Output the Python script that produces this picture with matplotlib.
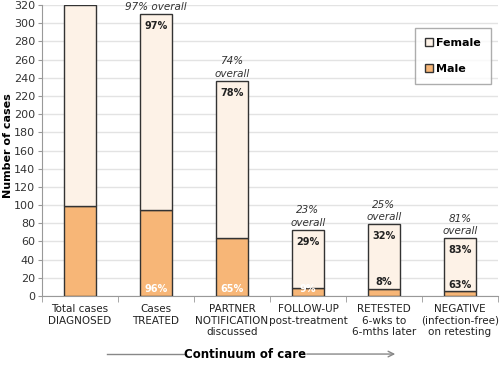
import matplotlib
matplotlib.use("Agg")
import matplotlib.pyplot as plt
import numpy as np

categories = ["Total cases\nDIAGNOSED", "Cases\nTREATED", "PARTNER\nNOTIFICATION\ndiscussed",
              "FOLLOW-UP\npost-treatment", "RETESTED\n6-wks to\n6-mths later",
              "NEGATIVE\n(infection-free)\non retesting"]
male = [99, 95, 64, 9, 8, 5]
total = [320, 310, 237, 73, 79, 64]
female = [t - m for t, m in zip(total, male)]
female_pct = ["", "97%", "78%", "29%", "32%", "83%"]
male_pct = ["", "96%", "65%", "9%", "8%", "63%"]
overall = ["", "97% overall", "74%\noverall", "23%\noverall", "25%\noverall", "81%\noverall"]

male_color = "#F7B677"
female_color = "#FDF2E7"
edge = "#333333"

fig = plt.figure(figsize=(5, 3.65), dpi=100)
ax = fig.add_axes([0.084, 0.189, 0.912, 0.797])
x = np.arange(len(categories))
w = 0.41
ax.bar(x, male, w, color=male_color, edgecolor=edge, linewidth=1.0, label="Male", zorder=3)
ax.bar(x, female, w, bottom=male, color=female_color, edgecolor=edge, linewidth=1.0, label="Female", zorder=3)

ax.set_xlim(-0.5, len(categories) - 0.5)
ax.set_ylim(0, 320)
ax.set_yticks(np.arange(0, 321, 20))
ax.yaxis.grid(True, color="#e3e3e3", linewidth=1.0, zorder=0)
ax.set_axisbelow(True)
for s in ["top", "right"]:
    ax.spines[s].set_visible(False)
ax.spines["left"].set_color("#999999")
ax.spines["bottom"].set_color("#999999")
ax.tick_params(axis="y", labelsize=8, color="#999999", length=3, pad=2, labelcolor="#333333")
ax.set_xticks(x)
ax.set_xticklabels(categories, fontsize=7.5, color="#222222", linespacing=1.15)
ax.tick_params(axis="x", length=0, pad=6)
ax.set_xticks(np.arange(-0.5, len(categories), 1), minor=True)
ax.tick_params(axis="x", which="minor", length=4, color="#999999")
fig.text(0.016, 0.6, "Number of cases", rotation=90, ha="center", va="center",
         fontsize=8, fontweight="bold")

for i in range(len(categories)):
    if female_pct[i]:
        ax.text(x[i], total[i] - 8, female_pct[i], ha="center", va="top", fontsize=7,
                fontweight="bold", color="#222222", zorder=4)
    if male_pct[i]:
        if i <= 3:
            ax.text(x[i], 2.5, male_pct[i], ha="center", va="bottom", fontsize=7,
                    fontweight="bold", color="white", zorder=4)
        else:
            ax.text(x[i], male[i] + 2, male_pct[i], ha="center", va="bottom", fontsize=7,
                    fontweight="bold", color="#222222", zorder=4)
    if overall[i]:
        ax.text(x[i], total[i] + 2, overall[i], ha="center", va="bottom", fontsize=7.5,
                style="italic", color="#333333", linespacing=1.3, zorder=4)

handles, labels = ax.get_legend_handles_labels()
leg = ax.legend(handles[::-1], labels[::-1], loc="upper left", bbox_to_anchor=(0.806, 0.94),
                prop={"weight": "bold", "size": 8}, frameon=True, fancybox=False,
                edgecolor="#999999", handlelength=0.7, handleheight=0.7, handletextpad=0.3,
                labelspacing=1.4, borderpad=0.9)
leg.get_frame().set_linewidth(1.0)

fig.text(0.49, 0.03, "Continuum of care", ha="center", va="center", fontsize=8.5, fontweight="bold")
fig.add_artist(plt.Line2D([0.214, 0.372], [0.03, 0.03], color="#888888", linewidth=1.0))
fig.add_artist(matplotlib.patches.FancyArrowPatch((0.608, 0.03), (0.796, 0.03),
               transform=fig.transFigure, arrowstyle="->", mutation_scale=10,
               color="#888888", linewidth=1.0))

fig.savefig("out.png", dpi=100)
